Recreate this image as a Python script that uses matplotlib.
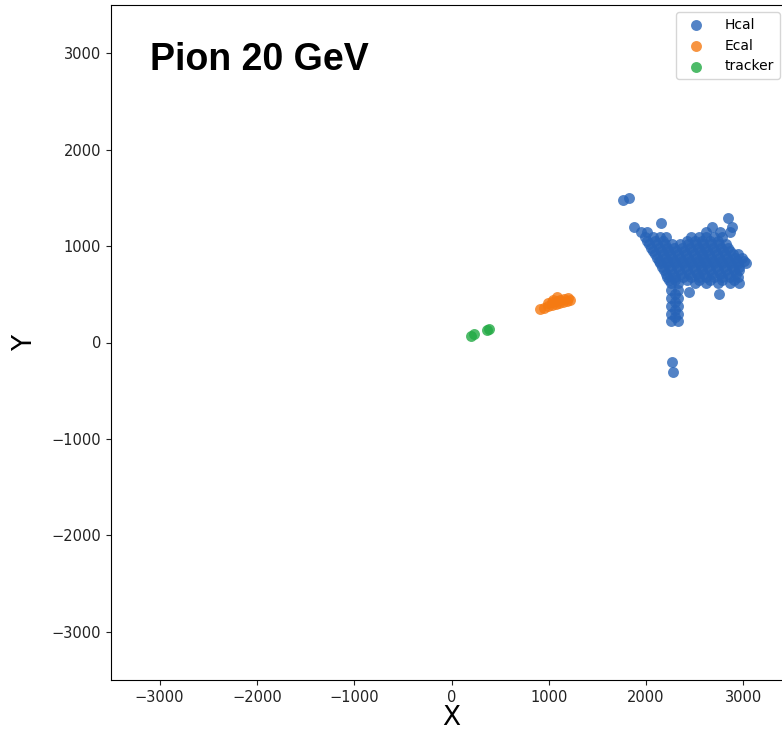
import matplotlib
matplotlib.use("Agg")
import matplotlib.pyplot as plt

# ---- data ----
hcal_x = [
    1760, 1820,
    2150, 2840,
    1880, 2680, 2880,
    1950, 2010, 2620, 2760, 2860,
    1990, 2070, 2140, 2200, 2460, 2540, 2620, 2700, 2780,
    2010, 2090, 2170, 2420, 2500, 2580, 2660, 2740,
    2030, 2110, 2190, 2270, 2350, 2430, 2510, 2590, 2670, 2750, 2820,
    2050, 2130, 2210, 2290, 2370, 2450, 2530, 2610, 2690, 2770, 2840,
    2070, 2150, 2230, 2310, 2390, 2470, 2550, 2630, 2710, 2790, 2860,
    2090, 2170, 2250, 2330, 2410, 2490, 2570, 2650, 2730, 2810, 2890, 2950,
    2110, 2190, 2270, 2350, 2430, 2510, 2590, 2670, 2750, 2830, 2910, 2990,
    2130, 2210, 2290, 2370, 2450, 2530, 2610, 2690, 2770, 2850, 2930, 3010,
    2140, 2220, 2300, 2380, 2460, 2540, 2620, 2700, 2780, 2860, 2940, 3030,
    2160, 2240, 2320, 2400, 2480, 2560, 2640, 2720, 2800, 2880, 2960,
    2180, 2260, 2340, 2420, 2500, 2580, 2660, 2740, 2820, 2900, 2960,
    2200, 2280, 2360, 2440, 2520, 2600, 2680, 2760, 2840, 2920,
    2220, 2300, 2380, 2460, 2540, 2620, 2700, 2780, 2860, 2940,
    2240, 2300, 2420, 2540, 2660, 2780, 2900,
    2260, 2330, 2500, 2620, 2740, 2860, 2960,
    2260, 2330, 2440, 2745,
    2295, 2260, 2330,
    2295, 2260, 2330,
    2295, 2260, 2330,
    2295, 2260, 2330,
    2270, 2280,
]
hcal_y = [
    1480, 1500,
    1240, 1290,
    1200, 1200, 1200,
    1150, 1150, 1150, 1150, 1150,
    1090, 1090, 1090, 1090, 1090, 1090, 1090, 1090, 1090,
    1055, 1055, 1055, 1055, 1055, 1055, 1055, 1055,
    1020, 1020, 1020, 1020, 1020, 1020, 1020, 1020, 1020, 1020, 1020,
    985, 985, 985, 985, 985, 985, 985, 985, 985, 985, 985,
    950, 950, 950, 950, 950, 950, 950, 950, 950, 950, 950,
    915, 915, 915, 915, 915, 915, 915, 915, 915, 915, 915, 915,
    880, 880, 880, 880, 880, 880, 880, 880, 880, 880, 880, 880,
    850, 850, 850, 850, 850, 850, 850, 850, 850, 850, 850, 850,
    820, 820, 820, 820, 820, 820, 820, 820, 820, 820, 820, 820,
    785, 785, 785, 785, 785, 785, 785, 785, 785, 785, 785,
    750, 750, 750, 750, 750, 750, 750, 750, 750, 750, 750,
    715, 715, 715, 715, 715, 715, 715, 715, 715, 715,
    680, 680, 680, 680, 680, 680, 680, 680, 680, 680,
    650, 650, 650, 650, 650, 650, 650,
    620, 620, 620, 620, 620, 620, 620,
    540, 540, 520, 500,
    500, 460, 460,
    420, 380, 380,
    340, 300, 300,
    260, 220, 220,
    -200, -310,
]
ecal_x = [910, 950, 990, 1030, 1070, 1110, 1150, 1190, 1220,
          990, 1030, 1080, 1120, 1160, 1200, 1080, 1040]
ecal_y = [350, 360, 375, 385, 400, 410, 420, 430, 445,
          410, 425, 430, 440, 450, 460, 470, 440]
trk_x = [200, 230, 360, 390]
trk_y = [70, 90, 125, 145]

labels = ["Hcal", "Ecal", "tracker"]
colors = ["#2864b8", "#f57a12", "#22aa44"]

fig = plt.figure(figsize=(7.82, 7.32), dpi=100)
ax = fig.add_axes([111 / 782, (732 - 680) / 732, 681 / 782, 675 / 732])

for xs, ys, lab, c in zip([hcal_x, ecal_x, trk_x], [hcal_y, ecal_y, trk_y], labels, colors):
    ax.scatter(xs, ys, s=62, color=c, alpha=0.8, label=lab, linewidths=0)

ax.set_xlim(-3500, 3500)
ax.set_ylim(-3500, 3500)
ax.set_xticks([-3000, -2000, -1000, 0, 1000, 2000, 3000])
ax.set_yticks([-3000, -2000, -1000, 0, 1000, 2000, 3000])
ax.tick_params(labelsize=10.5, colors="#222222")
ax.set_xlabel("X", fontsize=19, labelpad=0)
ax.set_ylabel("Y", fontsize=19, labelpad=10)

ax.text(-3100, 2930, "Pion 20 GeV", fontsize=27, fontweight="bold",
        family="Liberation Sans", ha="left", va="center")

ax.legend(loc="upper right", fontsize=10, handletextpad=1.1,
          bbox_to_anchor=(780 / 782, 1 - 12 / 732), bbox_transform=fig.transFigure,
          borderaxespad=0)

fig.savefig("out.png", dpi=100)
